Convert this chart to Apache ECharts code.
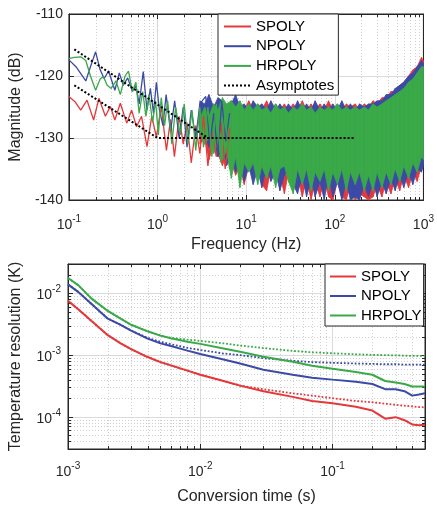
<!DOCTYPE html>
<html><head><meta charset="utf-8">
<script src="https://cdn.jsdelivr.net/npm/echarts@6/dist/echarts.min.js"></script>
<style>html,body{margin:0;padding:0;background:#fff}#c{width:437px;height:506px}</style>
</head><body><div id="c"></div>
<script>
// ================= TOP PANEL: noise spectrum =================
// low-frequency traces (Hz, dB)
const spolyLowFreq = [0.1,0.118,0.136,0.16,0.19,0.218,0.258,0.293,0.33,0.38,0.45,0.51,0.58,0.66,0.76,0.86,0.97,1.1,1.26,1.4,1.55,1.75,1.95,2.15,2.4,2.7,3.0,3.3,3.7,4.1,4.6,5.2,5.8,6.5];
const spolyLowDb   = [-123.3,-124.2,-125.5,-123.9,-127.1,-123.6,-126.5,-124.9,-127.1,-124.4,-127.6,-125.5,-128.2,-126.5,-131.4,-126.5,-129.8,-124.9,-132,-127,-133,-126.5,-131,-127.5,-134,-128,-132.5,-126.5,-134.5,-129,-133,-127.5,-135,-128.5];
const npolyLowFreq = [0.1,0.12,0.155,0.175,0.2,0.225,0.25,0.28,0.33,0.37,0.41,0.46,0.52,0.57,0.62,0.69,0.76,0.83,0.9,0.97,1.05,1.15,1.25,1.4,1.56,1.75,1.95,2.15,2.4,2.7,3.0,3.5,3.9,4.3,4.8,5.3,5.9,6.5];
const npolyLowDb   = [-117.4,-118.5,-120.8,-118.5,-116.1,-119,-120.4,-119.2,-122.3,-119.5,-121.5,-120.3,-122.5,-121.6,-124.5,-119.3,-125.5,-122,-126,-121,-125.5,-128,-123,-129,-124,-130,-125,-131.5,-125.5,-130,-124.5,-123.3,-131,-126,-133,-124,-130.5,-126];
const hrpolyLowFreq = [0.1,0.115,0.136,0.155,0.175,0.2,0.225,0.245,0.27,0.3,0.34,0.38,0.43,0.47,0.52,0.57,0.62,0.68,0.74,0.8,0.88,0.95,1.02,1.1,1.2,1.3,1.45,1.6,1.8,2.0,2.2,2.45,2.7,3.0,3.3,3.7,4.1,4.6,5.2,5.8,6.5];
const hrpolyLowDb   = [-117.2,-117,-116.9,-117.5,-120,-122.3,-120.5,-120.1,-121.5,-122,-120.8,-123,-120,-119.2,-122.5,-121,-126,-122.5,-126.5,-123,-127.5,-124,-129.5,-123.5,-128,-124,-131,-125,-129.5,-124.5,-131,-125.5,-132,-125,-131.5,-125,-133,-124.5,-134,-125.5,-135];

// dense part: upper / lower envelopes of each trace (Hz, dB)
const bandFreq = [3,3.4,3.8,4.3,4.8,5.4,6,6.8,7.6,8.5,9.5,10.7,12,13.5,15,17,19,21.5,24,27,30,34,38,43,48,54,60,68,76,85,95,107,120,135,150,170,190,215,240,270,300,340,380,430,480,540,600,680,760,850,950,1000];
const hrpolyHi = [-127,-125,-126.5,-124.5,-125.5,-123.5,-124.5,-124,-125,-124,-125.5,-124.5,-125.5,-124.5,-125.5,-125,-126,-124.5,-125.5,-125,-126,-125,-125.5,-124.5,-125.5,-125,-126,-125,-125.5,-125,-125.5,-124.5,-125.5,-125,-125.5,-125,-125.5,-125,-125.5,-124.5,-125,-124.5,-124,-123.5,-123,-122.5,-122,-121,-120.5,-119.5,-118.5,-118.5];
const hrpolyLo = [-129.5,-131,-130,-132.5,-131,-133.5,-132,-136.5,-133,-138,-134,-135.5,-134,-137.5,-134.5,-136.5,-134.5,-138,-135,-134.5,-137,-139,-135,-137.5,-135,-138.5,-135.5,-137,-135,-138.5,-135.5,-137.5,-135,-138.5,-135.5,-137.5,-135.5,-138.5,-136,-138.5,-135.5,-138,-135.5,-137.5,-135,-137,-134.5,-136.5,-134,-135.5,-133,-133.5];
const npolyHi = [-124,-124.5,-123,-125,-123.5,-124,-125,-124.5,-123,-125,-124.5,-125.5,-124,-125,-124.5,-125.5,-124,-125.5,-124.5,-125.5,-124.5,-125.5,-124,-125.5,-124.5,-125.5,-124,-125.5,-124.5,-125.5,-124.5,-125.5,-124,-125.5,-124.5,-125.5,-124.5,-125,-124.5,-124.5,-124,-124,-123,-123,-122,-121.5,-121,-120,-119.5,-118.5,-117.5,-118];
const npolyLo = [-130,-129.5,-131.5,-130.5,-133,-131.5,-134.5,-133,-135.5,-134,-137,-134.5,-137.5,-135,-138,-134.5,-137,-135.5,-138.5,-136,-135,-137.5,-139,-136,-139.5,-136.5,-139.5,-137,-140,-136,-139.5,-137,-140,-137,-140,-139.5,-140,-137.5,-139.5,-137,-139.5,-137,-139,-136.5,-138.5,-136,-138,-135.5,-137.5,-135,-135.5,-134.5];
const spolyHi = [-126,-125,-126.5,-124.5,-125.5,-124,-125.5,-124,-125,-124.5,-125.5,-124,-125.5,-124.5,-125.5,-124,-125.5,-124.5,-125.5,-124.5,-125.5,-124.5,-125.5,-124,-125.5,-124.5,-125.5,-124.5,-125.5,-124,-125.5,-124.5,-125.5,-124.5,-125,-124.5,-125.5,-124.5,-125,-124,-124.5,-123.5,-123.5,-122.5,-122.5,-121.5,-121,-120,-119,-118.5,-117,-117.5];
const spolyLo = [-131,-130,-133.5,-131,-132.5,-134.5,-132.5,-134,-136,-134.5,-137.5,-134.5,-136,-134.5,-137.5,-138.5,-135,-137,-136,-139,-135.5,-138.5,-136,-139.5,-136.5,-140,-137,-139.5,-136.5,-139.5,-140,-137,-139.5,-140,-137.5,-140,-139,-139.5,-140,-139.5,-137.5,-139.5,-137,-139,-136.5,-138.5,-136,-138,-135.5,-137,-134.5,-134];

// asymptotes
const asymUpperFreq = [0.115, 3.7, 170];
const asymUpperDb   = [-115.7, -130, -130];
const asymLowerFreq = [0.115, 1.0, 3.7];
const asymLowerDb   = [-121.5, -130, -130];

// ================= BOTTOM PANEL: temperature resolution =================
const convTime = [0.001,0.0012,0.0015,0.002,0.0025,0.003,0.004,0.005,0.006,0.008,0.01,0.015,0.02,0.03,0.05,0.07,0.1,0.15,0.2,0.25,0.3,0.35,0.4,0.45,0.5];
const spolyRes  = [0.0076,0.0055,0.0036,0.0021,0.00155,0.00125,0.00093,0.00077,0.00068,0.00056,0.00048,0.00038,0.00032,0.00026,0.00021,0.00018,0.000165,0.000145,0.000126,0.000093,0.0000985,0.000088,0.000075,0.000073,0.000074];
const npolyRes  = [0.014,0.0105,0.0068,0.0039,0.0031,0.0025,0.00185,0.00155,0.0014,0.00118,0.00104,0.00085,0.00073,0.00058,0.00048,0.00043,0.0004,0.00037,0.00034,0.00028,0.00028,0.00026,0.00022,0.00023,0.00024];
const hrpolyRes = [0.0178,0.0135,0.0083,0.0052,0.0039,0.0031,0.00243,0.00207,0.00187,0.00165,0.00152,0.00128,0.00113,0.00094,0.00078,0.00067,0.0006,0.00053,0.00048,0.00038,0.00036,0.00034,0.00031,0.00031,0.00031];
const spolyModel  = [0.0076,0.0055,0.0036,0.0021,0.00155,0.00125,0.00093,0.00077,0.00068,0.00056,0.00048,0.00038,0.00032,0.00028,0.00024,0.00022,0.0002,0.00018,0.000172,0.000163,0.000156,0.000151,0.000147,0.000144,0.000142];
const npolyModel  = [0.014,0.0105,0.0068,0.0039,0.0031,0.0025,0.0019,0.00165,0.0015,0.00131,0.00121,0.00106,0.001,0.00089,0.00081,0.00077,0.00075,0.00073,0.00072,0.00071,0.00071,0.0007,0.0007,0.0007,0.0007];
const hrpolyModel = [0.0178,0.0135,0.0083,0.0052,0.0039,0.0031,0.00243,0.00207,0.0019,0.00178,0.0017,0.00155,0.00143,0.0013,0.00117,0.00111,0.00107,0.00103,0.00101,0.001,0.00099,0.00098,0.00097,0.00097,0.00097];

// tick label values
const topYTicks = [-140, -130, -120, -110];

// ================= chart =================
const FONT = "'Liberation Sans', Arial, Helvetica, sans-serif";
const TXT = '#262626';
const RED = '#e5383b', BLUE = '#3b4aa6', GREEN = '#3aa948';

function pts(xs, ys) { return xs.map((x, i) => [x, ys[i]]); }
function minorVals(lo, hi) {
  const out = [];
  for (let d = Math.floor(Math.log10(lo)); d <= Math.ceil(Math.log10(hi)); d++) {
    for (let k = 2; k <= 9; k++) { const v = k * Math.pow(10, d); if (v > lo * 1.0001 && v < hi * 0.9999) out.push(v); }
  }
  return out;
}
function powLabel(v) {
  const e = Math.log10(v), r = Math.round(e);
  if (Math.abs(e - r) > 1e-6) return '';
  return '{b|10}{s|' + r + '}';
}
const powRich = {
  b: { fontSize: 14, fontFamily: FONT, color: TXT, lineHeight: 18, verticalAlign: 'bottom' },
  s: { fontSize: 10, fontFamily: FONT, color: TXT, lineHeight: 18, verticalAlign: 'top' }
};
const hp = v => Math.round(v) + 0.5;

function minorXSeries(xIdx, yIdx, vals, yRef) {
  return { type: 'custom', xAxisIndex: xIdx, yAxisIndex: yIdx, silent: true, z: 1,
    data: vals.map(v => [v, yRef]),
    renderItem: function (params, api) {
      const cs = params.coordSys;
      const x = hp(api.coord([api.value(0), yRef])[0]);
      const b = cs.y + cs.height;
      return { type: 'group', children: [
        { type: 'line', shape: { x1: x, y1: cs.y, x2: x, y2: b }, style: { stroke: '#cfcfcf', lineWidth: 1, lineDash: [1, 2] } },
        { type: 'line', shape: { x1: x, y1: b, x2: x, y2: b - 3 }, style: { stroke: TXT, lineWidth: 1 } },
        { type: 'line', shape: { x1: x, y1: cs.y, x2: x, y2: cs.y + 3 }, style: { stroke: TXT, lineWidth: 1 } }
      ] };
    } };
}
function minorYSeries(xIdx, yIdx, vals, xRef) {
  return { type: 'custom', xAxisIndex: xIdx, yAxisIndex: yIdx, silent: true, z: 1,
    data: vals.map(v => [xRef, v]),
    renderItem: function (params, api) {
      const cs = params.coordSys;
      const y = hp(api.coord([xRef, api.value(1)])[1]);
      const r = cs.x + cs.width;
      return { type: 'group', children: [
        { type: 'line', shape: { x1: cs.x, y1: y, x2: r, y2: y }, style: { stroke: '#cfcfcf', lineWidth: 1, lineDash: [1, 2] } },
        { type: 'line', shape: { x1: cs.x, y1: y, x2: cs.x + 3, y2: y }, style: { stroke: TXT, lineWidth: 1 } },
        { type: 'line', shape: { x1: r, y1: y, x2: r - 3, y2: y }, style: { stroke: TXT, lineWidth: 1 } }
      ] };
    } };
}
function bandSeries(name, color, hi, lo) {
  return { type: 'custom', name: name, xAxisIndex: 0, yAxisIndex: 0, silent: true, z: 2,
    data: bandFreq.map((f, i) => [f, hi[i], lo[i]]),
    renderItem: function (params, api) {
      const i = params.dataIndex;
      if (i >= bandFreq.length - 1) return null;
      const p = [
        api.coord([bandFreq[i], hi[i]]), api.coord([bandFreq[i + 1], hi[i + 1]]),
        api.coord([bandFreq[i + 1], lo[i + 1]]), api.coord([bandFreq[i], lo[i]])
      ];
      return { type: 'polygon', shape: { points: p }, style: { fill: color, stroke: color, lineWidth: 0.8 } };
    } };
}
function lineSeries(name, xI, yI, data, color, width, type) {
  return { type: 'line', name: name, xAxisIndex: xI, yAxisIndex: yI, data: data, symbol: 'none', showSymbol: false,
    z: 2, lineStyle: { color: color, width: width, type: type || 'solid' }, itemStyle: { color: color } };
}

const axisLineStyle = { show: true, lineStyle: { color: TXT, width: 1 } };
const tickIn = { show: true, inside: true, length: 5, lineStyle: { color: TXT } };
const gridSplit = { show: true, lineStyle: { color: '#dadada', width: 1 } };
const labelBase = { fontSize: 14, fontFamily: FONT, color: TXT };
const nameStyle = { fontSize: 16, fontFamily: FONT, color: TXT };

const option = {
  animation: false,
  backgroundColor: '#fff',
  grid: [
    { left: 68, top: 14, width: 359, height: 186, show: true, borderColor: TXT, borderWidth: 1, backgroundColor: '#fff' },
    { left: 68, top: 264, width: 357, height: 187, show: true, borderColor: TXT, borderWidth: 1, backgroundColor: '#fff' }
  ],
  xAxis: [
    { type: 'log', gridIndex: 0, min: 0.1, max: 1000, logBase: 10, axisLine: axisLineStyle, axisTick: tickIn,
      axisLabel: Object.assign({ formatter: powLabel, rich: powRich, margin: 14 }, labelBase), splitLine: gridSplit,
      name: 'Frequency (Hz)', nameLocation: 'middle', nameGap: 37, nameTextStyle: nameStyle },
    { type: 'log', gridIndex: 0, min: 0.1, max: 1000, position: 'top', axisLine: axisLineStyle, axisTick: tickIn,
      axisLabel: { show: false }, splitLine: { show: false } },
    { type: 'log', gridIndex: 1, min: 0.001, max: 0.5, logBase: 10, axisLine: axisLineStyle, axisTick: tickIn,
      axisLabel: Object.assign({ formatter: powLabel, rich: powRich, margin: 12 }, labelBase), splitLine: gridSplit,
      name: 'Conversion time (s)', nameLocation: 'middle', nameGap: 40, nameTextStyle: nameStyle },
    { type: 'log', gridIndex: 1, min: 0.001, max: 0.5, position: 'top', axisLine: axisLineStyle, axisTick: tickIn,
      axisLabel: { show: false }, splitLine: { show: false } }
  ],
  yAxis: [
    { type: 'value', gridIndex: 0, min: topYTicks[0], max: topYTicks[topYTicks.length - 1], interval: 10,
      axisLine: axisLineStyle, axisTick: tickIn, axisLabel: Object.assign({ margin: 6 }, labelBase), splitLine: gridSplit,
      name: 'Magnitude (dB)', nameLocation: 'middle', nameGap: 40, nameRotate: 90, nameTextStyle: nameStyle },
    { type: 'value', gridIndex: 0, min: -140, max: -110, interval: 10, position: 'right',
      axisLine: axisLineStyle, axisTick: tickIn, axisLabel: { show: false }, splitLine: { show: false } },
    { type: 'log', gridIndex: 1, min: 3e-5, max: 3e-2, logBase: 10, axisLine: axisLineStyle, axisTick: tickIn,
      axisLabel: Object.assign({ formatter: powLabel, rich: powRich, margin: 7 }, labelBase), splitLine: gridSplit,
      name: 'Temperature resolution (K)', nameLocation: 'middle', nameGap: 44, nameRotate: 90, nameTextStyle: nameStyle },
    { type: 'log', gridIndex: 1, min: 3e-5, max: 3e-2, position: 'right', axisLine: axisLineStyle, axisTick: tickIn,
      axisLabel: { show: false }, splitLine: { show: false } }
  ],
  legend: [
    { orient: 'vertical', left: 218, top: 14, itemWidth: 27, itemHeight: 15, itemGap: 4.7, padding: [5, 4, 2, 5],
      backgroundColor: '#fff', borderColor: TXT, borderWidth: 1, borderRadius: 0,
      textStyle: { fontSize: 15, fontFamily: FONT, color: '#000', lineHeight: 15 },
      itemStyle: { color: 'rgba(0,0,0,0)', borderColor: 'rgba(0,0,0,0)', borderWidth: 0 },
      lineStyle: { width: 2 },
      data: ['SPOLY', 'NPOLY', 'HRPOLY', 'Asymptotes'] },
    { orient: 'vertical', left: 325, top: 264, itemWidth: 26, itemHeight: 15, itemGap: 4.5, padding: [5, 2, 3, 4],
      backgroundColor: '#fff', borderColor: TXT, borderWidth: 1, borderRadius: 0,
      textStyle: { fontSize: 15, fontFamily: FONT, color: '#000', lineHeight: 15 },
      itemStyle: { color: 'rgba(0,0,0,0)', borderColor: 'rgba(0,0,0,0)', borderWidth: 0 },
      lineStyle: { width: 2 },
      data: ['SPOLY', 'NPOLY', 'HRPOLY'] }
  ],
  series: [
    minorXSeries(0, 0, minorVals(0.1, 1000), -140),
    minorXSeries(2, 2, minorVals(0.001, 0.5), 3e-5),
    minorYSeries(2, 2, minorVals(3e-5, 3e-2), 0.001),
    bandSeries('SPOLY band', RED, spolyHi, spolyLo),
    bandSeries('NPOLY band', BLUE, npolyHi, npolyLo),
    bandSeries('HRPOLY band', GREEN, hrpolyHi, hrpolyLo),
    Object.assign(lineSeries('SPOLY', 0, 0, pts(spolyLowFreq, spolyLowDb), RED, 1.3), { z: 3 }),
    Object.assign(lineSeries('NPOLY', 0, 0, pts(npolyLowFreq, npolyLowDb), BLUE, 1.3), { z: 3 }),
    Object.assign(lineSeries('HRPOLY', 0, 0, pts(hrpolyLowFreq, hrpolyLowDb), GREEN, 1.3), { z: 3 }),
    Object.assign(lineSeries('Asymptotes', 0, 0, pts(asymUpperFreq, asymUpperDb), '#000', 2, 'dotted'), { z: 4 }),
    Object.assign(lineSeries('Asymptotes', 0, 0, pts(asymLowerFreq, asymLowerDb), '#000', 2, 'dotted'), { z: 4 }),
    lineSeries('SPOLY model', 2, 2, pts(convTime, spolyModel), RED, 1.8, 'dotted'),
    lineSeries('NPOLY model', 2, 2, pts(convTime, npolyModel), BLUE, 1.8, 'dotted'),
    lineSeries('HRPOLY model', 2, 2, pts(convTime, hrpolyModel), GREEN, 1.8, 'dotted'),
    lineSeries('SPOLY', 2, 2, pts(convTime, spolyRes), RED, 2),
    lineSeries('NPOLY', 2, 2, pts(convTime, npolyRes), BLUE, 2),
    lineSeries('HRPOLY', 2, 2, pts(convTime, hrpolyRes), GREEN, 2)
  ]
};
const chart = echarts.init(document.getElementById('c'), null, { renderer: 'canvas' });
chart.setOption(option);
</script>
</body></html>
